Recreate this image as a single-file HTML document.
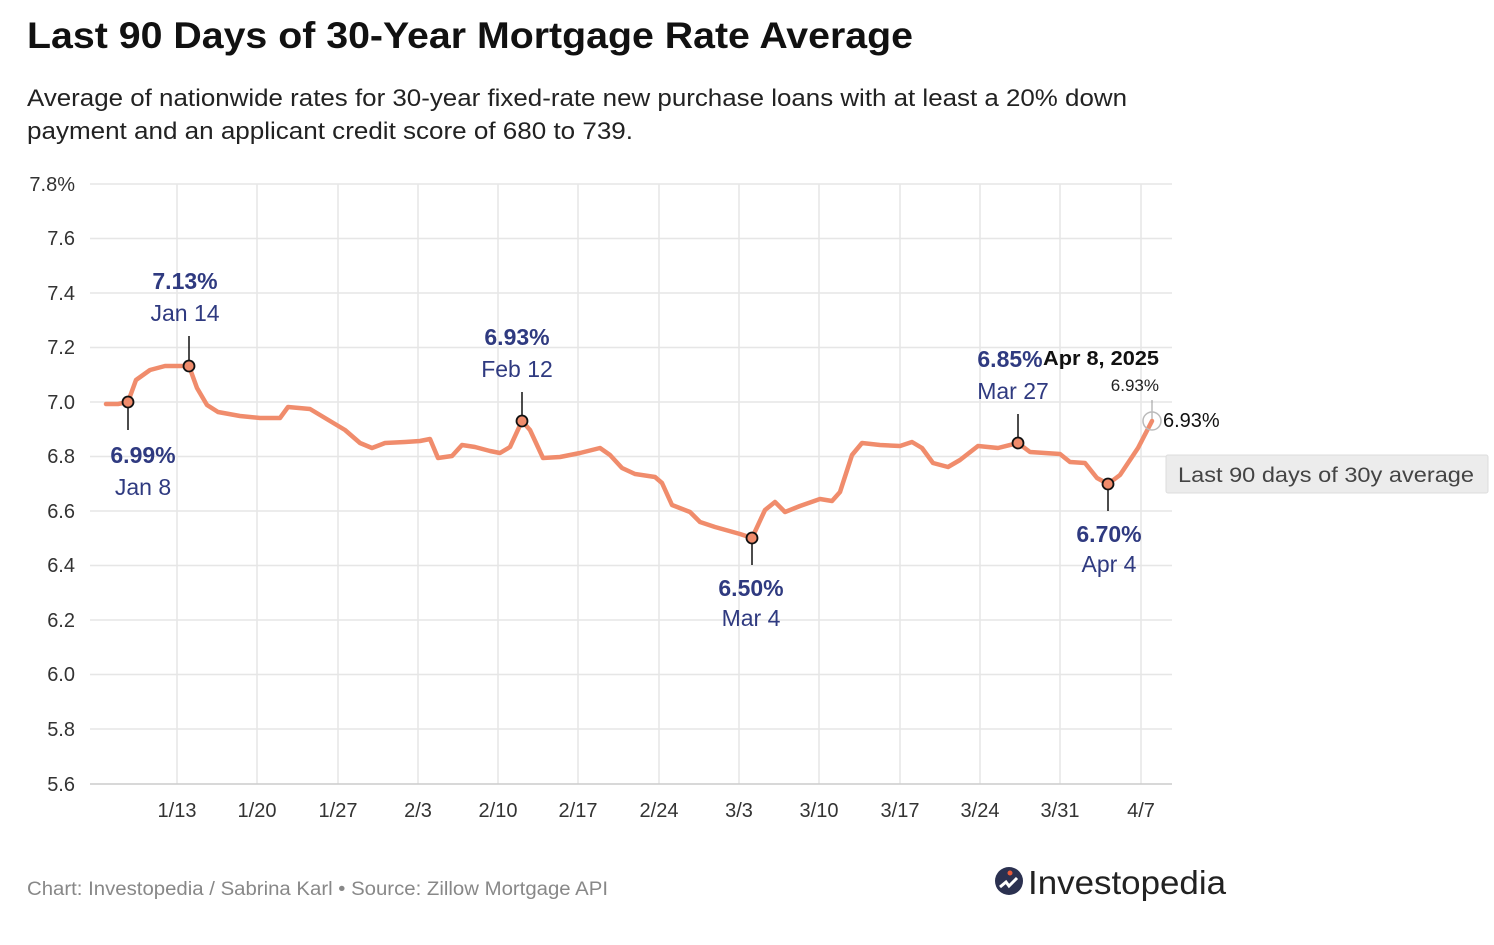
<!DOCTYPE html>
<html><head><meta charset="utf-8"><style>
body{margin:0;background:#fff;width:1494px;height:940px;overflow:hidden;font-family:"Liberation Sans",sans-serif}
</style></head><body>
<svg width="1494" height="940" xmlns="http://www.w3.org/2000/svg" font-family="Liberation Sans, sans-serif">
<text x="27" y="48" font-size="37" font-weight="bold" fill="#111" textLength="886" lengthAdjust="spacingAndGlyphs">Last 90 Days of 30-Year Mortgage Rate Average</text>
<text x="27" y="106" font-size="24" fill="#222" textLength="1100" lengthAdjust="spacingAndGlyphs">Average of nationwide rates for 30-year fixed-rate new purchase loans with at least a 20% down</text>
<text x="27" y="139" font-size="24" fill="#222" textLength="606" lengthAdjust="spacingAndGlyphs">payment and an applicant credit score of 680 to 739.</text>
<g stroke="#e6e6e6" stroke-width="1.5">
<line x1="90" y1="184" x2="1172" y2="184"/><line x1="90" y1="238.5" x2="1172" y2="238.5"/><line x1="90" y1="293" x2="1172" y2="293"/><line x1="90" y1="347.5" x2="1172" y2="347.5"/><line x1="90" y1="402" x2="1172" y2="402"/><line x1="90" y1="456.5" x2="1172" y2="456.5"/><line x1="90" y1="511" x2="1172" y2="511"/><line x1="90" y1="565.5" x2="1172" y2="565.5"/><line x1="90" y1="620" x2="1172" y2="620"/><line x1="90" y1="674.5" x2="1172" y2="674.5"/><line x1="90" y1="729" x2="1172" y2="729"/>
<line x1="177" y1="184" x2="177" y2="784"/><line x1="257" y1="184" x2="257" y2="784"/><line x1="338" y1="184" x2="338" y2="784"/><line x1="418" y1="184" x2="418" y2="784"/><line x1="498" y1="184" x2="498" y2="784"/><line x1="578" y1="184" x2="578" y2="784"/><line x1="659" y1="184" x2="659" y2="784"/><line x1="739" y1="184" x2="739" y2="784"/><line x1="819" y1="184" x2="819" y2="784"/><line x1="900" y1="184" x2="900" y2="784"/><line x1="980" y1="184" x2="980" y2="784"/><line x1="1060" y1="184" x2="1060" y2="784"/><line x1="1141" y1="184" x2="1141" y2="784"/>
</g>
<line x1="90" y1="784" x2="1172" y2="784" stroke="#ccc" stroke-width="1.5"/>
<g font-size="20" fill="#333" text-anchor="end">
<text x="75" y="191">7.8%</text><text x="75" y="245">7.6</text><text x="75" y="300">7.4</text><text x="75" y="354">7.2</text><text x="75" y="409">7.0</text><text x="75" y="463">6.8</text><text x="75" y="518">6.6</text><text x="75" y="572">6.4</text><text x="75" y="627">6.2</text><text x="75" y="681">6.0</text><text x="75" y="736">5.8</text><text x="75" y="791">5.6</text>
</g>
<g font-size="20" fill="#333" text-anchor="middle">
<text x="177" y="817">1/13</text><text x="257" y="817">1/20</text><text x="338" y="817">1/27</text><text x="418" y="817">2/3</text><text x="498" y="817">2/10</text><text x="578" y="817">2/17</text><text x="659" y="817">2/24</text><text x="739" y="817">3/3</text><text x="819" y="817">3/10</text><text x="900" y="817">3/17</text><text x="980" y="817">3/24</text><text x="1060" y="817">3/31</text><text x="1141" y="817">4/7</text>
</g>
<g stroke="#111" stroke-width="1.5">
<line x1="128" y1="402" x2="128" y2="430"/><line x1="189" y1="366" x2="189" y2="336"/><line x1="522" y1="421" x2="522" y2="392"/><line x1="752" y1="538" x2="752" y2="565"/><line x1="1018" y1="443" x2="1018" y2="414"/><line x1="1108" y1="484" x2="1108" y2="511"/>
</g>
<line x1="1152" y1="421" x2="1152" y2="400" stroke="#999" stroke-width="1"/>
<polyline fill="none" stroke="#f08c6c" stroke-width="4.5" stroke-linejoin="round" stroke-linecap="round" points="106,404 118,404 128,402 136,380 150,370 165,366 180,366 189,366 197,388 207,405 218,412 240,416 260,418 280,418 288,407 310,409 325,418 345,430 360,443 372,448 385,443 405,442 420,441 430,439 438,458 452,456 462,445 475,447 490,451 500,453 510,447 522,421 530,430 543,458 560,457 580,453 600,448 610,455 622,468 635,474 655,477 662,483 672,505 690,512 700,522 715,527 740,534 752,538 765,510 775,502 785,512 800,506 820,499 832,501 840,492 852,455 862,443 880,445 900,446 912,442 922,448 933,463 948,467 960,460 978,446 998,448 1018,443 1030,452 1060,454 1070,462 1085,463 1097,478 1108,484 1120,475 1138,448 1152,421"/>
<g fill="#f08c6c" stroke="#111" stroke-width="1.8">
<circle cx="128" cy="402" r="5.5"/><circle cx="189" cy="366" r="5.5"/><circle cx="522" cy="421" r="5.5"/><circle cx="752" cy="538" r="5.5"/><circle cx="1018" cy="443" r="5.5"/><circle cx="1108" cy="484" r="5.5"/>
</g>
<circle cx="1152" cy="421" r="9" fill="none" stroke="#bbb" stroke-width="1.5"/>
<g fill="#2f3a80" font-size="23" text-anchor="middle">
<text x="143" y="463" font-weight="bold">6.99%</text><text x="143" y="495">Jan 8</text>
<text x="185" y="289" font-weight="bold">7.13%</text><text x="185" y="321">Jan 14</text>
<text x="517" y="345" font-weight="bold">6.93%</text><text x="517" y="377">Feb 12</text>
<text x="751" y="596" font-weight="bold">6.50%</text><text x="751" y="626">Mar 4</text>
<text x="1010" y="367" font-weight="bold">6.85%</text><text x="1013" y="399">Mar 27</text>
<text x="1109" y="542" font-weight="bold">6.70%</text><text x="1109" y="572">Apr 4</text>
</g>
<text x="1043" y="365" font-size="20" font-weight="bold" fill="#111" textLength="116" lengthAdjust="spacingAndGlyphs">Apr 8, 2025</text>
<text x="1159" y="391" font-size="17" fill="#222" text-anchor="end">6.93%</text>
<text x="1163" y="427" font-size="20" fill="#111">6.93%</text>
<rect x="1166" y="455" width="322" height="38" rx="2" fill="#ececec" stroke="#ddd"/>
<text x="1178" y="482" font-size="21" fill="#444" textLength="296" lengthAdjust="spacingAndGlyphs">Last 90 days of 30y average</text>
<text x="27" y="895" font-size="19" fill="#888" textLength="581" lengthAdjust="spacingAndGlyphs">Chart: Investopedia / Sabrina Karl • Source: Zillow Mortgage API</text>
<circle cx="1009" cy="881" r="14" fill="#2b3150"/>
<path d="M1000 887 l6 -5 l3 4 l8 -8" stroke="#fff" stroke-width="3" fill="none"/>
<circle cx="1010" cy="873" r="2.5" fill="#e85a3a"/>
<text x="1028" y="894" font-size="33" fill="#222" textLength="198" lengthAdjust="spacingAndGlyphs">Investopedia</text>
</svg>
</body></html>
